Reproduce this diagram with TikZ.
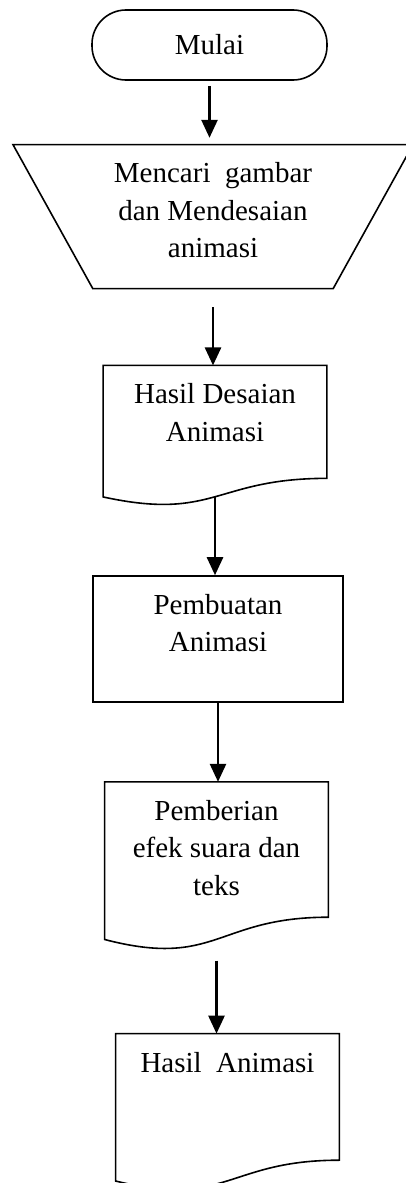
\documentclass[tikz,border=0pt]{standalone}
\usepackage{fontspec}
\setmainfont{Liberation Serif}
\usetikzlibrary{arrows.meta, positioning, calc, shapes.geometric}

% outline of a document symbol round a node
\newcommand{\docoutline}[1]{%
  \draw[line width=0.8pt] (#1.north west) -- (#1.north east)
    -- ($(#1.north east)!0.802!(#1.south east)$)
    .. controls ($(#1.north)!0.802!(#1.south)$) and ($(#1.north)!1.107!(#1.south)$)
    .. ($(#1.north west)!0.934!(#1.south west)$) -- cycle;
  \coordinate (#1-out) at ($(#1.north)!0.93!(#1.south)$);
}

\begin{document}
\begin{tikzpicture}[
    every node/.style={font=\fontsize{14.5}{18.75}\selectfont, align=center, inner sep=0pt},
    term/.style={draw, line width=0.8pt, rounded corners=17pt, minimum width=117.5pt, minimum height=35pt},
    inbox/.style={draw, line width=0.8pt, trapezium, shape border rotate=180, trapezium left angle=61, trapezium right angle=61, trapezium stretches body, minimum width=200pt},
    proc/.style={draw, line width=0.8pt, minimum width=125pt},
    docu/.style={minimum width=111.5pt},
    arr/.style={-{Triangle[length=9pt, width=8pt]}, line width=1.3pt}
]
\useasboundingbox (0,0) rectangle (203pt,-591.5pt);
\node[term] (mulai) at (104.75pt,-22.5pt) {Mulai};
\node[inbox, text height=56.5pt, text depth=15.5pt, below=31.5pt of mulai, xshift=1.75pt] (cari) {Mencari\ \ gambar\\dan Mendesaian\\animasi};
\node[docu, text height=37.75pt, text depth=32.25pt, below=38pt of cari, xshift=1pt] (desain) {Hasil Desaian\\Animasi};
\node[proc, text height=37.75pt, text depth=25.25pt, below=34.5pt of desain, xshift=1.5pt] (buat) {Pembuatan\\Animasi};
\node[docu, text height=56.5pt, text depth=27.5pt, below=39.5pt of buat, xshift=-0.75pt] (efek) {Pemberian\\efek suara dan\\teks};
\node[docu, text height=19pt, text depth=59.5pt, below=41.5pt of efek, xshift=5.5pt] (hasil) {Hasil\ \ Animasi};

\docoutline{desain}
\docoutline{efek}
\docoutline{hasil}

\draw[arr, shorten <=2.5pt, shorten >=3pt] (mulai.south) -- (mulai.south |- cari.north);
\draw[arr, shorten <=9pt] (cari.south) -- (cari.south |- desain.north);
\draw[arr] (desain-out) -- (desain-out |- buat.north);
\draw[arr] (buat.south) -- (buat.south |- efek.north);
\draw[arr, shorten <=5pt] (efek.south) -- (efek.south |- hasil.north);
\end{tikzpicture}
\end{document}
